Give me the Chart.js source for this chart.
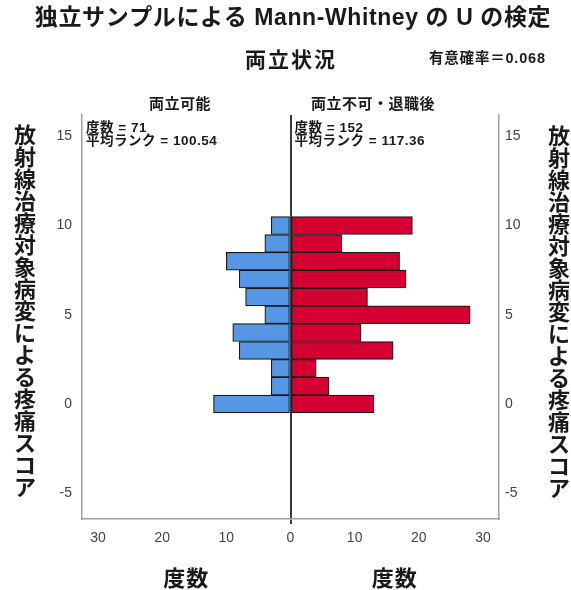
<!DOCTYPE html>
<html lang="ja">
<head>
<meta charset="utf-8">
<script src="https://cdn.jsdelivr.net/npm/chart.js@4/dist/chart.umd.min.js"></script>
<style>
  html, body { margin: 0; padding: 0; background: #fff; }
  #wrap { width: 571px; height: 590px; position: relative; }
</style>
</head>
<body>
<div id="wrap"><canvas id="chart" width="571" height="590"></canvas></div>
<script>
// Pain score bins (histogram rows)
const scores = [0, 1, 2, 3, 4, 5, 6, 7, 8, 9, 10];
// Frequencies per score, group "両立可能" (drawn to the left)
const countCompatible = [12, 3, 3, 8, 9, 4, 7, 8, 10, 4, 3];
// Frequencies per score, group "両立不可・退職後" (drawn to the right)
const countIncompatible = [13, 6, 4, 16, 11, 28, 12, 18, 17, 8, 19];
// Axis ticks
const freqTicks = [-30, -20, -10, 0, 10, 20, 30];
const scoreTicks = [-5, 0, 5, 10, 15];

const groupLabels = ['両立可能', '両立不可・退職後'];
const groupN = [71, 152];
const groupMeanRank = ['100.54', '117.36'];
const mainTitle = '独立サンプルによる Mann-Whitney の U の検定';
const subTitle = '両立状況';
const pValueText = '有意確率＝0.068';
const yTitle = '放射線治療対象病変による疼痛スコア';
const xTitle = '度数';

const CJK = '"Noto Sans CJK JP", sans-serif';
const LAT = '"Liberation Sans", "Noto Sans CJK JP", sans-serif';

const textPlugin = {
  id: 'textPlugin',
  afterDraw(chart) {
    const ctx = chart.ctx;
    const area = chart.chartArea;
    const x0 = chart.scales.x.getPixelForValue(0);
    ctx.save();
    ctx.fillStyle = '#1a1a1a';
    ctx.textBaseline = 'middle';

    // titles
    ctx.textAlign = 'center';
    ctx.letterSpacing = '0.6px';
    ctx.font = 'bold 23px ' + LAT;
    ctx.fillText(mainTitle, 293, 19);
    ctx.letterSpacing = '2px';
    ctx.font = 'bold 21px ' + CJK;
    ctx.fillText(subTitle, 291, 59);
    ctx.textAlign = 'left';
    ctx.letterSpacing = '0.8px';
    ctx.font = 'bold 14.5px ' + LAT;
    ctx.fillText(pValueText, 429, 59);

    // panel headers
    ctx.textAlign = 'center';
    ctx.letterSpacing = '0.5px';
    ctx.font = 'bold 15px ' + CJK;
    ctx.fillText(groupLabels[0], 180, 103);
    ctx.fillText(groupLabels[1], 373, 103);

    // group statistics in each panel
    ctx.textAlign = 'left';
    ctx.letterSpacing = '0.5px';
    ctx.font = 'bold 13.5px ' + LAT;
    const starts = [area.left + 4, x0 + 4];
    for (let i = 0; i < 2; i++) {
      ctx.fillText('度数 = ' + groupN[i], starts[i], area.top + 13);
      ctx.fillText('平均ランク = ' + groupMeanRank[i], starts[i], area.top + 26);
    }

    // vertical y-axis titles on both sides
    ctx.letterSpacing = '0px';
    ctx.textAlign = 'center';
    ctx.font = 'bold 22px ' + CJK;
    const chars = Array.from(yTitle);
    const pitch = 22;
    chars.forEach((ch, k) => {
      ctx.fillText(ch, 25, 135 + k * pitch);
      ctx.fillText(ch, 559, 136 + k * pitch);
    });

    // x-axis titles under each half
    ctx.font = 'bold 22px ' + CJK;
    ctx.letterSpacing = '1px';
    ctx.fillText(xTitle, (area.left + x0) / 2, 578);
    ctx.fillText(xTitle, (x0 + area.right) / 2, 578);
    ctx.restore();
  }
};

const fixedTicks = (values) => (scale) => {
  scale.ticks = values.map(v => ({ value: v }));
};

new Chart(document.getElementById('chart'), {
  type: 'bar',
  data: {
    datasets: [
      {
        label: groupLabels[0],
        data: scores.map((s, i) => ({ x: -countCompatible[i], y: s })),
        backgroundColor: '#5597e5',
        borderColor: '#1a1a1a',
        borderWidth: 1.2,
        borderSkipped: false,
        grouped: false,
        barPercentage: 1,
        categoryPercentage: 1,
        yAxisID: 'y'
      },
      {
        label: groupLabels[1],
        data: scores.map((s, i) => ({ x: countIncompatible[i], y: s })),
        backgroundColor: '#d50032',
        borderColor: '#1a1a1a',
        borderWidth: 1.2,
        borderSkipped: false,
        grouped: false,
        barPercentage: 1,
        categoryPercentage: 1,
        yAxisID: 'y'
      }
    ]
  },
  options: {
    indexAxis: 'y',
    responsive: false,
    animation: false,
    layout: { padding: { top: 115, left: 0, right: 0, bottom: 0 } },
    plugins: { legend: { display: false }, tooltip: { enabled: false }, title: { display: false } },
    scales: {
      x: {
        type: 'linear',
        min: -32.5,
        max: 32.5,
        afterBuildTicks: fixedTicks(freqTicks),
        afterFit: (s) => { s.height = 71; },
        grid: {
          display: true,
          drawTicks: true,
          tickLength: 5,
          color: (c) => c.tick && c.tick.value === 0 ? '#3a3a3a' : 'rgba(0,0,0,0)',
          tickColor: (c) => c.tick && c.tick.value === 0 ? '#3a3a3a' : 'rgba(0,0,0,0)',
          lineWidth: 2
        },
        border: { display: true, color: '#a0a0a0', width: 1.5 },
        ticks: {
          padding: 6,
          color: '#444',
          font: { family: '"Liberation Sans", sans-serif', size: 14 },
          callback: (v) => String(Math.abs(v))
        }
      },
      y: {
        type: 'linear',
        position: 'left',
        min: -6.45,
        max: 16.2,
        offset: false,
        afterBuildTicks: fixedTicks(scoreTicks),
        afterFit: (s) => { s.width = 82; },
        grid: { display: false, drawTicks: false },
        border: { display: true, color: '#a0a0a0', width: 1.5 },
        ticks: {
          padding: 10,
          color: '#444',
          font: { family: '"Liberation Sans", sans-serif', size: 14 }
        }
      },
      y2: {
        type: 'linear',
        position: 'right',
        min: -6.45,
        max: 16.2,
        offset: false,
        afterBuildTicks: fixedTicks(scoreTicks),
        afterFit: (s) => { s.width = 72; },
        grid: { display: false, drawTicks: false },
        border: { display: true, color: '#a0a0a0', width: 1.5 },
        ticks: {
          padding: 6,
          color: '#444',
          font: { family: '"Liberation Sans", sans-serif', size: 14 }
        }
      }
    }
  },
  plugins: [textPlugin]
});
</script>
</body>
</html>
